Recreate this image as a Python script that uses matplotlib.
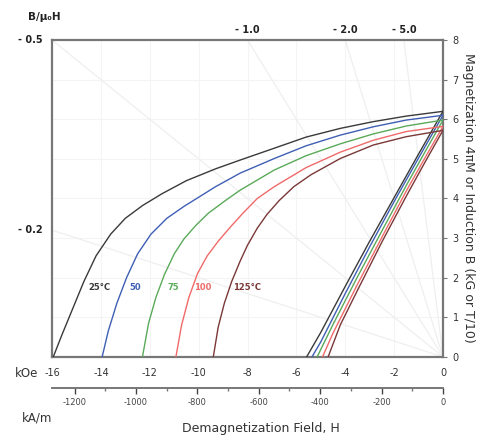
import matplotlib
matplotlib.use("Agg")
import matplotlib.pyplot as plt

# Intrinsic (4piM) demagnetization curves, kOe vs kG
temps = ["25°C", "50", "75", "100", "125°C"]
colors = ["#3a3a3a", "#3f5fb5", "#5aaa5a", "#f06a6a", "#7a3838"]

h_25 = [-15.95, -15.6, -15.2, -14.7, -14.2, -13.6, -13.0, -12.3, -11.5, -10.5, -9.3, -8.3, -6.9, -5.6, -4.2, -2.85, -1.5, 0]
m_25 = [0, 0.55, 1.15, 1.9, 2.55, 3.1, 3.5, 3.82, 4.12, 4.45, 4.75, 4.97, 5.27, 5.55, 5.77, 5.94, 6.08, 6.2]
h_50 = [-13.95, -13.7, -13.35, -12.95, -12.5, -11.95, -11.3, -10.6, -9.3, -8.3, -6.9, -5.6, -4.2, -2.85, -1.5, 0]
m_50 = [0, 0.65, 1.35, 2.0, 2.6, 3.1, 3.5, 3.8, 4.3, 4.64, 5.01, 5.33, 5.6, 5.81, 5.98, 6.1]
h_75 = [-12.3, -12.05, -11.75, -11.4, -11.0, -10.6, -10.1, -9.6, -8.9, -8.3, -6.9, -5.6, -4.2, -2.85, -1.5, 0]
m_75 = [0, 0.85, 1.5, 2.08, 2.6, 2.98, 3.33, 3.63, 3.95, 4.21, 4.72, 5.08, 5.38, 5.63, 5.83, 5.98]
h_100 = [-10.93, -10.7, -10.4, -10.05, -9.65, -9.2, -8.7, -8.2, -7.6, -6.9, -5.6, -4.2, -2.85, -1.5, 0]
m_100 = [0, 0.8, 1.5, 2.1, 2.55, 2.92, 3.28, 3.62, 4.0, 4.3, 4.78, 5.17, 5.47, 5.69, 5.82]
h_125 = [-9.4, -9.2, -8.95, -8.65, -8.3, -8.0, -7.6, -7.2, -6.7, -6.1, -5.4, -4.2, -2.85, -1.5, 0]
m_125 = [0, 0.75, 1.35, 1.9, 2.42, 2.82, 3.25, 3.6, 3.95, 4.3, 4.6, 5.01, 5.35, 5.56, 5.72]

# Normal (B) curves
hb_25 = [-5.58, -5.0, -4.0, -3.0, -2.0, -1.0, 0]
b_25 = [0, 0.62, 1.78, 2.92, 4.02, 5.12, 6.2]
hb_50 = [-5.36, -5.0, -4.0, -3.0, -2.0, -1.0, 0]
b_50 = [0, 0.38, 1.6, 2.78, 3.92, 5.02, 6.1]
hb_75 = [-5.15, -4.5, -3.5, -2.5, -1.5, -0.75, 0]
b_75 = [0, 0.82, 2.02, 3.18, 4.33, 5.16, 5.98]
hb_100 = [-4.93, -4.5, -3.5, -2.5, -1.5, -0.75, 0]
b_100 = [0, 0.6, 1.83, 3.02, 4.19, 5.01, 5.82]
hb_125 = [-4.7, -4.2, -3.5, -2.5, -1.5, -0.75, 0]
b_125 = [0, 0.81, 1.68, 2.9, 4.06, 4.9, 5.72]

# permeance (load) lines B/mu0H and their labels
load_slopes = [-0.5, -0.2, -1.0, -2.0, -5.0]
load_labels = ["- 0.5", "- 0.2", "- 1.0", "- 2.0", "- 5.0"]

h_kOe_ticks = [-16, -14, -12, -10, -8, -6, -4, -2, 0]
kam_ticks = [-1200, -1000, -800, -600, -400, -200, 0]
b_ticks = [0, 1, 2, 3, 4, 5, 6, 7, 8]

fig = plt.figure(figsize=(4.82, 4.45), dpi=100)
ax = fig.add_axes([0.108, 0.198, 0.811, 0.712])
ax.set_xlim(-16, 0)
ax.set_ylim(0, 8)

# faint grid
for x in h_kOe_ticks[1:-1]:
    ax.axvline(x, color="#f4f4f4", lw=0.8, zorder=0)
for y in b_ticks[1:-1]:
    ax.axhline(y, color="#f4f4f4", lw=0.8, zorder=0)

# load lines from origin
for s, lab in zip(load_slopes, load_labels):
    hh = max(-16, 8 / s)
    bb = s * hh
    ax.plot([0, hh], [0, bb], color="#efefef", lw=0.9, zorder=1)
    if hh == -16:
        ax.text(-16.4, bb, lab, ha="right", va="center", fontsize=7,
                fontweight="bold", color="#222222", clip_on=False)
    else:
        ax.text(hh, 8.13, lab, ha="center", va="bottom", fontsize=7,
                fontweight="bold", color="#222222", clip_on=False)

h_curves = [h_25, h_50, h_75, h_100, h_125]
m_curves = [m_25, m_50, m_75, m_100, m_125]
hb_curves = [hb_25, hb_50, hb_75, hb_100, hb_125]
b_curves = [b_25, b_50, b_75, b_100, b_125]
for h, m, hb, b, c in zip(h_curves, m_curves, hb_curves, b_curves, colors):
    ax.plot(h, m, color=c, lw=1.0, zorder=3)
    ax.plot(hb, b, color=c, lw=1.0, zorder=3)

# curve labels
label_x = [-14.05, -12.6, -11.05, -9.85, -8.0]
for lx, t, c in zip(label_x, temps, colors):
    ax.text(lx, 1.74, t, ha="center", va="center", fontsize=6,
            fontweight="bold", color=c, zorder=4)

for sp in ax.spines.values():
    sp.set_color("#777777")
    sp.set_linewidth(1.6)

ax.set_xticks(h_kOe_ticks)
ax.set_xticklabels([str(v) for v in h_kOe_ticks])
ax.tick_params(axis="x", length=0, pad=8, labelsize=7, colors="#333333")
ax.yaxis.tick_right()
ax.set_yticks(b_ticks)
ax.tick_params(axis="y", length=3, pad=4, labelsize=7, colors="#333333")
ax.tick_params(axis="y", color="#777777")

ax.text(-16.55, -0.42, "kOe", ha="right", va="center", fontsize=8.5, color="#333333",
        clip_on=False)
ax.text(-17.0, 8.58, "B/μ₀H", ha="left", va="center", fontsize=7.5,
        fontweight="bold", color="#222222", clip_on=False)

# secondary kA/m axis
sec = ax.secondary_xaxis(-0.098, functions=(lambda x: x * 79.577, lambda x: x / 79.577))
sec.set_xticks(kam_ticks)
sec.set_xticklabels([str(v) for v in kam_ticks])
sec.set_xticks([-1100, -900, -700, -500, -300, -100], minor=True)
sec.tick_params(axis="x", which="major", length=4, width=1, pad=3, labelsize=6,
                colors="#444444")
sec.tick_params(axis="x", which="minor", length=2.5, width=1, colors="#777777")
sec.spines["bottom"].set_color("#777777")
sec.spines["bottom"].set_linewidth(1.4)
ax.text(-16.0, -1.55, "kA/m", ha="right", va="center", fontsize=8.5, color="#333333",
        clip_on=False)

fig.text(0.542, 0.038, "Demagnetization Field, H", ha="center", va="center",
         fontsize=9, color="#333333")
fig.text(0.972, 0.555, "Magnetization 4πM or Induction B (kG or T/10)", ha="center",
         va="center", rotation=-90, fontsize=9, color="#333333")

fig.savefig("out.png", dpi=100)
